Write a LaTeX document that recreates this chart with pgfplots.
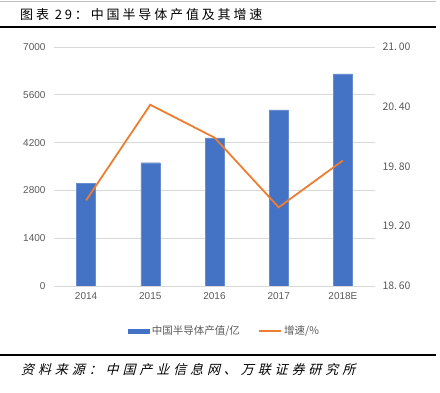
\documentclass[border=0pt]{standalone}
\usepackage{fontspec}
\setmainfont{Liberation Sans}
\newfontfamily\cjk{Noto Sans CJK SC}
\newfontfamily\cjkls[LetterSpace=22]{Noto Sans CJK SC}
\newfontfamily\cjkit[FakeSlant=0.25,LetterSpace=30]{Noto Sans CJK SC}
\usepackage{pgfplots}
\pgfplotsset{compat=1.18}
\definecolor{barblue}{HTML}{4472C4}
\definecolor{lineorange}{HTML}{ED7D31}
\definecolor{gridgray}{HTML}{D9D9D9}
\definecolor{ticktext}{HTML}{595959}
\begin{document}
\begin{tikzpicture}
\path[use as bounding box] (0,0) rectangle (440pt,-393pt);
\draw[gray!50, line width=0.8pt] (0,-1.2pt) -- (436pt,-1.2pt);
\node[anchor=west, inner sep=0pt] at (20pt,-14.5pt) {\cjkls\fontsize{13}{14}\selectfont 图表\ 29：中国半导体产值及其增速};
\draw[black, line width=2.4pt] (0,-27pt) -- (436pt,-27pt);
\begin{axis}[
  at={(54pt,-286pt)}, anchor=south west,
  scale only axis, width=321pt, height=239pt,
  xmin=-0.5, xmax=4.5,
  ymin=0, ymax=7000,
  xtick={0,1,2,3,4},
  xticklabels={2014,2015,2016,2017,2018E},
  ytick={0,1400,2800,4200,5600,7000},
  scaled y ticks=false,
  /pgf/number format/fixed,
  /pgf/number format/1000 sep={},
  /pgf/number format/assume math mode=true,
  ymajorgrids, grid style={gridgray, line width=0.8pt},
  axis line style={draw=none},
  major tick length=0pt,
  tick label style={font=\fontsize{10}{11}\selectfont, text=ticktext},
  yticklabel style={xshift=-5pt},
  xticklabel style={yshift=-3pt},
  axis y line*=left,
]
\addplot[ybar, bar width=19pt, fill=barblue, draw=barblue!80!white] coordinates {(0,3015) (1,3610) (2,4336) (3,5155) (4,6210)};
\end{axis}
\begin{axis}[
  at={(54pt,-286pt)}, anchor=south west,
  scale only axis, width=321pt, height=239pt,
  xmin=-0.5, xmax=4.5,
  ymin=18.6, ymax=21.0,
  axis y line*=right, axis x line=none,
  ytick={18.6,19.2,19.8,20.4,21.0},
  yticklabels={18.\,60,19.\,20,19.\,80,20.\,40,21.\,00},
  axis line style={draw=none},
  major tick length=0pt,
  yticklabel style={font=\cjk\fontsize{10.5}{11}\selectfont, text=ticktext, xshift=4pt},
  legend style={at={(0.22,-0.15)}, anchor=north west, draw=none, fill=none,
    legend columns=2, font=\cjk\fontsize{10.5}{11}\selectfont, text=ticktext,
    /tikz/every even column/.append style={column sep=16pt}},
]
\addlegendimage{area legend, fill=barblue, draw=none, legend image code/.code={\fill[barblue] (0pt,-2.5pt) rectangle (22pt,2.5pt);}}
\addlegendentry{中国半导体产值/亿}
\addplot[lineorange, line width=1.8pt, mark=none, legend image code/.code={\draw[lineorange, line width=2.2pt] (0pt,0pt) -- (22pt,0pt);}] coordinates {(0,19.46) (1,20.42) (2,20.09) (3,19.39) (4,19.86)};
\addlegendentry{增速/\%}
\end{axis}
\draw[black, line width=2pt] (0,-355pt) -- (436pt,-355pt);
\node[anchor=west, inner sep=0pt] at (21pt,-370pt) {\cjkit\fontsize{13}{14}\selectfont 资料来源：中国产业信息网、万联证券研究所};
\end{tikzpicture}
\end{document}
